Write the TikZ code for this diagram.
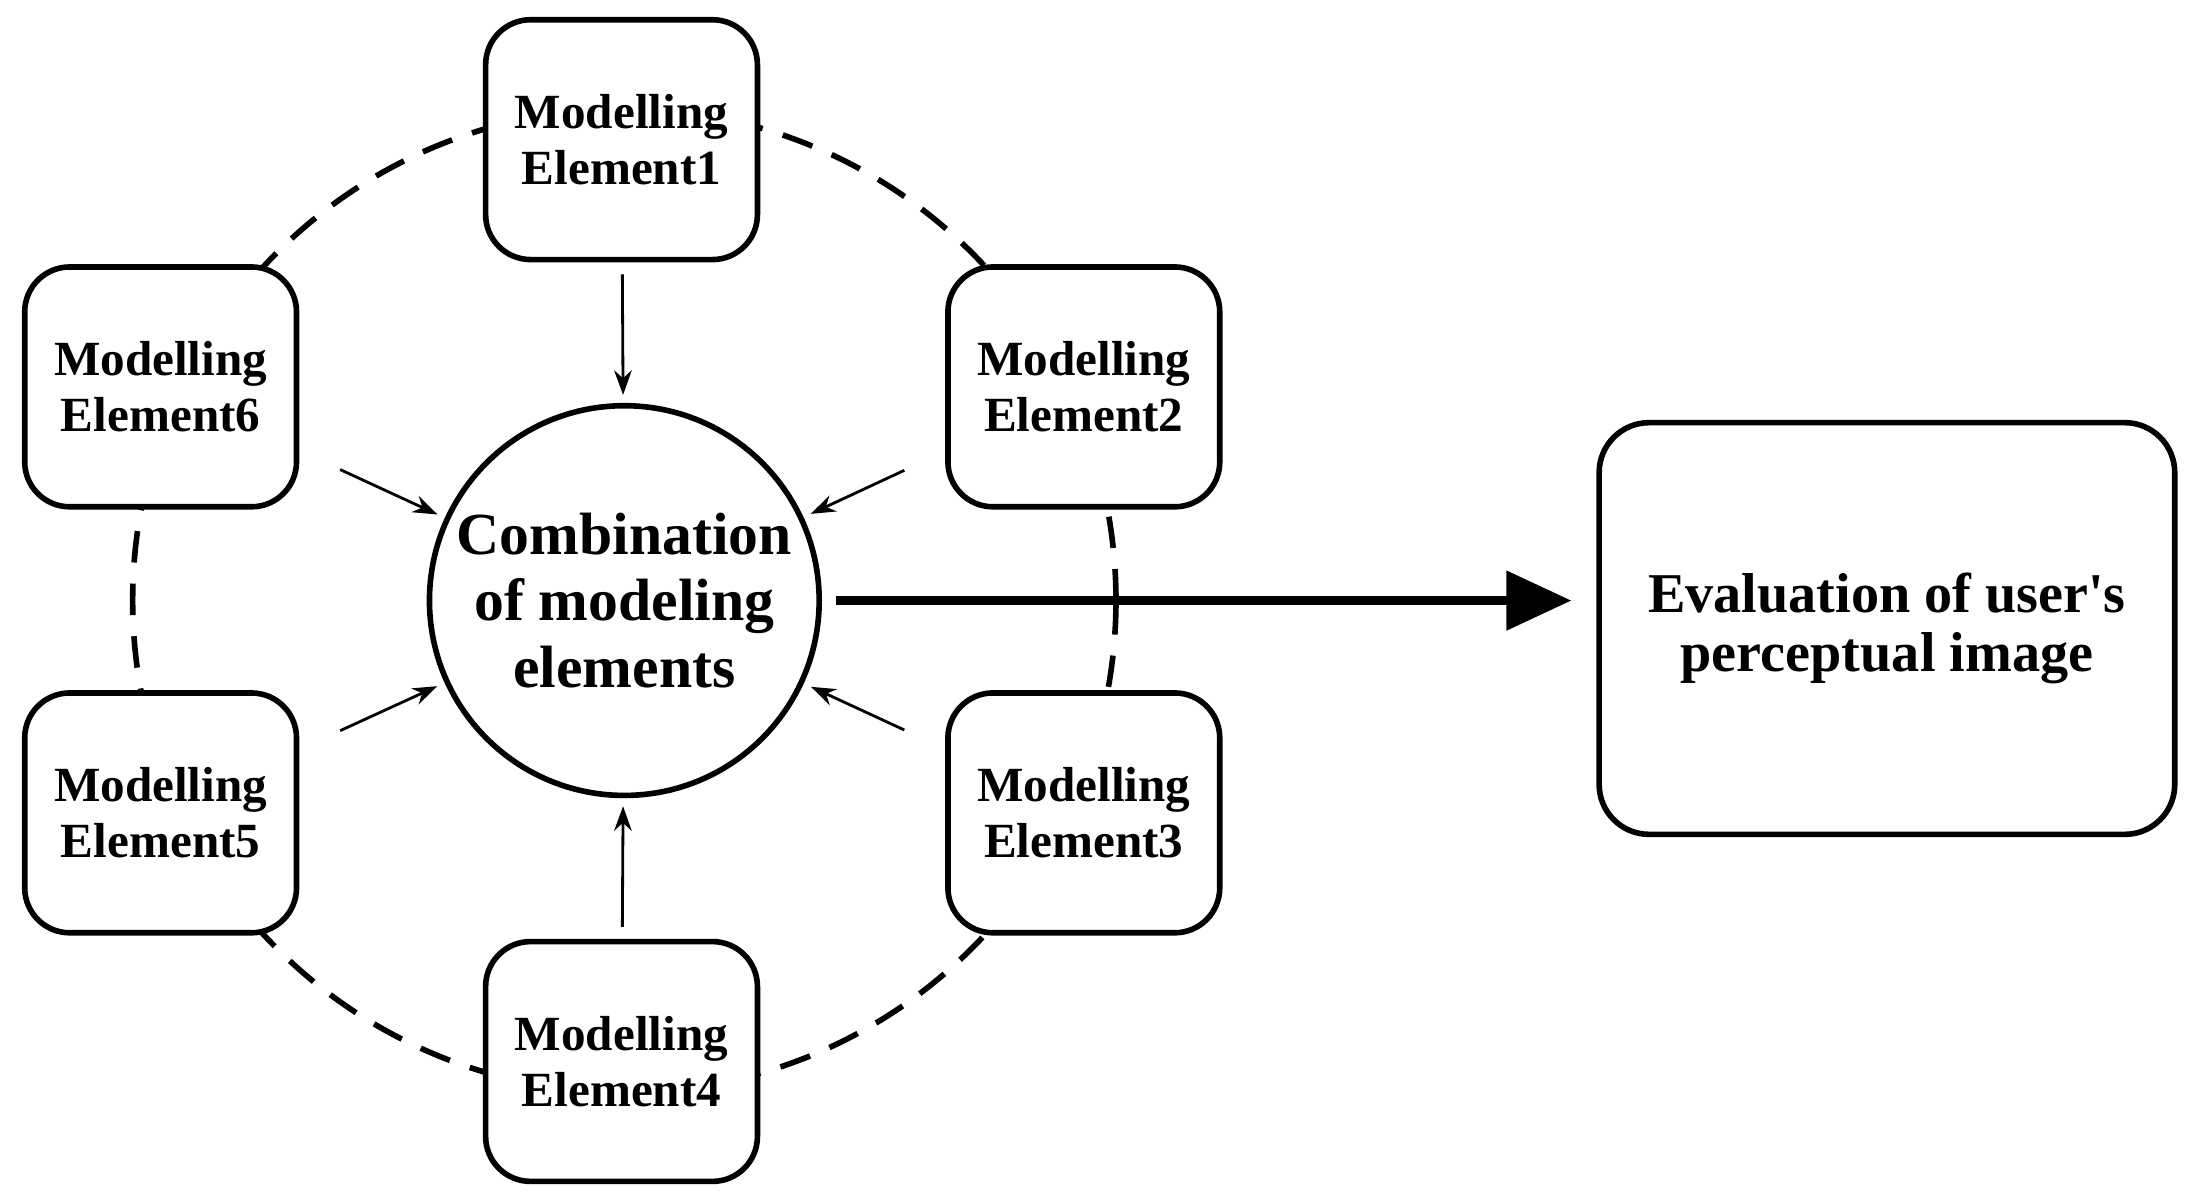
\documentclass[tikz,border=0pt]{standalone}
\usepackage{fontspec}
\setmainfont{Liberation Serif}
\usetikzlibrary{positioning, arrows.meta}
\tikzset{
  element/.style={
    rectangle, draw, line width=1.6pt, rounded corners=0.45cm,
    fill=white, align=center,
    minimum width=2.72cm, minimum height=2.4cm,
    font=\bfseries\fontsize{14}{16}\selectfont
  },
  combo/.style={ % central circle
    circle, draw, line width=1.6pt, fill=white, align=center,
    minimum size=3.9cm, inner sep=0pt,
    font=\bfseries\fontsize{17}{19}\selectfont
  },
  result/.style={
    rectangle, draw, line width=1.6pt, rounded corners=0.5cm,
    align=center, minimum width=5.76cm, minimum height=4.12cm,
    font=\bfseries\fontsize{16}{17}\selectfont
  },
  conn/.style={ % thin arrows into the circle
    -{Stealth[length=7pt, width=5pt]}, line width=0.8pt,
  },
  big/.style={
    -{Triangle[length=0.65cm, width=0.58cm]}, line width=2.4pt,
  },
}
\begin{document}
\begin{tikzpicture}[x=0.01397cm, y=-0.01397cm]
		\useasboundingbox (0,0) rectangle (1568,857);
		% dashed ring behind the elements
		\draw[dashed, dash pattern=on 9pt off 6pt, line width=1.6pt] (447,430) circle[radius=4.92cm];
		% centre
		\node[combo] (comb) at (447,430) {Combination\\of modeling\\elements};
		% elements
		\node[element] (e1) at (445,100) {Modelling\\Element1};
		\node[element] (e2) at (776,277) {Modelling\\Element2};
		\node[element] (e3) at (776,582) {Modelling\\Element3};
		\node[element] (e4) at (445,760) {Modelling\\Element4};
		\node[element] (e5) at (115,582) {Modelling\\Element5};
		\node[element] (e6) at (115,277) {Modelling\\Element6};
		% evaluation
		\node[result] (eval) at (1351,450) {Evaluation of user\textquotesingle s\\perceptual image};
		% connections
		\draw[conn, shorten <=0.12cm, shorten >=0.08cm] (e1) -- (comb);
		\draw[conn, shorten <=0.12cm, shorten >=0.08cm] (e4) -- (comb);
		\foreach \e in {e2,e3,e5,e6}
			\draw[conn, shorten <=0.45cm, shorten >=0.08cm] (\e) -- (comb);
		\draw[big, shorten <=0.14cm, shorten >=0.25cm] (comb.east) -- (comb.east -| eval.west);
	\end{tikzpicture}
\end{document}
